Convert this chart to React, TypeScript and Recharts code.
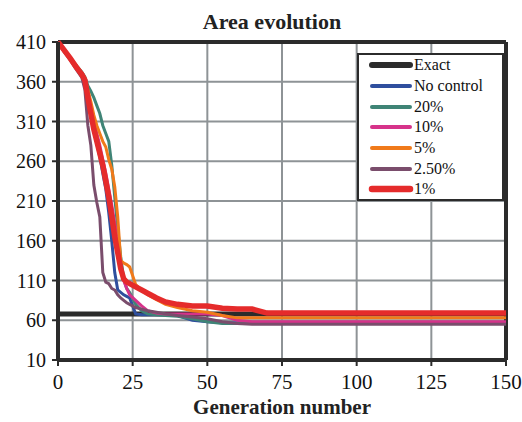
import { LineChart, Line, XAxis, YAxis, CartesianGrid, ReferenceLine } from 'recharts';

const GENERATIONS = [
  0, 2, 4, 6, 8, 9, 10, 11, 12, 13, 14, 15, 16, 17, 18, 19, 20, 21, 22, 23, 24, 26, 28, 30, 33, 36, 40, 45,
  50, 55, 60, 65, 70, 80, 100, 125, 150,
];

const EXACT = GENERATIONS.map(() => 68);
const NO_CONTROL = [
  410, 400, 390, 380, 370, 362, 345, 322, 300, 282, 265, 245, 225, 195, 160, 120, 98, 95, 92, 90, 88, 68, 67,
  67, 67, 67, 66, 60, 58, 57, 57, 57, 57, 57, 57, 57, 57,
];
const CTRL_20 = [
  410, 400, 390, 381, 372, 366, 355, 348, 340, 330, 320, 305, 295, 285, 255, 215, 175, 140, 112, 100, 95, 80,
  72, 68, 67, 66, 65, 62, 58, 56, 56, 56, 56, 56, 56, 56, 56,
];
const CTRL_10 = [
  410, 400, 390, 380, 370, 362, 345, 328, 310, 295, 280, 262, 245, 225, 205, 182, 160, 128, 110, 100, 92, 85,
  78, 72, 69, 68, 68, 68, 68, 66, 60, 58, 58, 58, 58, 58, 58,
];
const CTRL_5 = [
  410, 400, 390, 381, 371, 365, 350, 335, 318, 305, 295, 285, 278, 262, 250, 228, 190, 135, 132, 130, 127, 105,
  98, 92, 86, 80, 76, 72, 70, 66, 63, 63, 63, 63, 63, 63, 63,
];
const CTRL_2_5 = [
  410, 398, 388, 376, 365, 350, 305, 280, 230, 208, 190, 120, 108, 106, 100, 98, 92, 88, 85, 82, 80, 76, 74,
  72, 70, 68, 66, 64, 62, 58, 56, 55, 55, 55, 55, 55, 55,
];
const CTRL_1 = [
  410, 400, 390, 379, 369, 362, 340, 320, 300, 285, 270, 255, 235, 215, 190, 165, 145, 125, 112, 108, 106, 102,
  98, 94, 88, 83, 80, 78, 78, 75, 74, 74, 69, 69, 69, 69, 69,
];

const Y_TICKS = [10, 60, 110, 160, 210, 260, 310, 360, 410];
const X_TICKS = [0, 25, 50, 75, 100, 125, 150];

const SERIES = [
  { key: 'exact', label: 'Exact', values: EXACT, color: '#2b2b2b', width: 5 },
  { key: 'none', label: 'No control', values: NO_CONTROL, color: '#2f4f9e', width: 3 },
  { key: 'c20', label: '20%', values: CTRL_20, color: '#3f8476', width: 3 },
  { key: 'c10', label: '10%', values: CTRL_10, color: '#d6338a', width: 3 },
  { key: 'c5', label: '5%', values: CTRL_5, color: '#f07a1a', width: 3 },
  { key: 'c25', label: '2.50%', values: CTRL_2_5, color: '#7a4d6c', width: 3 },
  { key: 'c1', label: '1%', values: CTRL_1, color: '#e52b2b', width: 5.5 },
];

const data = GENERATIONS.map((g, i) => {
  const row: Record<string, number> = { gen: g };
  SERIES.forEach((s) => {
    row[s.key] = s.values[i];
  });
  return row;
});

const FONT = "'Times New Roman', 'Liberation Serif', 'DejaVu Serif', 'Noto Serif', serif";
const DARK = '#2b2b2b';

export default function App() {
  return (
    <div style={{ position: 'absolute', left: 0, top: 0, width: 522, height: 422, background: '#fff', fontFamily: FONT }}>
      <div
        style={{
          position: 'absolute',
          left: 122,
          top: 9,
          width: 300,
          textAlign: 'center',
          fontFamily: FONT,
          fontSize: 22,
          lineHeight: '26px',
          fontWeight: 'bold',
          color: '#222',
        }}
      >
        Area evolution
      </div>

      <LineChart width={522} height={422} data={data} margin={{ top: 42, right: 16, bottom: 32, left: 0 }}>
        <CartesianGrid stroke="#8e9396" strokeWidth={2} />
        <XAxis
          dataKey="gen"
          type="number"
          domain={[0, 150]}
          ticks={X_TICKS}
          height={30}
          tick={{ fontSize: 21, fill: '#111', fontFamily: FONT }}
          tickSize={6}
          tickMargin={8}
          tickLine={{ stroke: DARK, strokeWidth: 2 }}
          axisLine={{ stroke: DARK, strokeWidth: 4 }}
          label={{
            value: 'Generation number',
            position: 'bottom',
            offset: 9,
            style: { fontSize: 21, fontWeight: 'bold', fill: '#222', fontFamily: FONT },
          }}
        />
        <YAxis
          type="number"
          domain={[10, 410]}
          ticks={Y_TICKS}
          width={58}
          tick={{ fontSize: 20, fill: '#111', fontFamily: FONT }}
          tickSize={6}
          tickMargin={6}
          tickLine={{ stroke: DARK, strokeWidth: 2 }}
          axisLine={{ stroke: DARK, strokeWidth: 4 }}
        />
        <ReferenceLine y={410} stroke={DARK} strokeWidth={4} />
        <ReferenceLine x={150} stroke={DARK} strokeWidth={4} />
        {SERIES.map((s) => (
          <Line
            key={s.key}
            dataKey={s.key}
            name={s.label}
            type="linear"
            stroke={s.color}
            strokeWidth={s.width}
            dot={false}
            isAnimationActive={false}
          />
        ))}
      </LineChart>

      <div
        style={{
          position: 'absolute',
          left: 357,
          top: 53,
          width: 147,
          height: 148,
          boxSizing: 'border-box',
          border: `2.5px solid ${DARK}`,
          background: '#fff',
        }}
      >
        {SERIES.map((s) => (
          <div key={s.key} style={{ display: 'flex', alignItems: 'center', height: 20.7 }}>
            <svg width={46} height={10} style={{ marginLeft: 9, flex: 'none' }}>
              <line x1={4} y1={5} x2={42} y2={5} stroke={s.color} strokeWidth={s.width + 1} strokeLinecap="round" />
            </svg>
            <span style={{ fontFamily: FONT, fontSize: 16, color: '#111', whiteSpace: 'nowrap', lineHeight: '18px' }}>
              {s.label}
            </span>
          </div>
        ))}
      </div>
    </div>
  );
}
